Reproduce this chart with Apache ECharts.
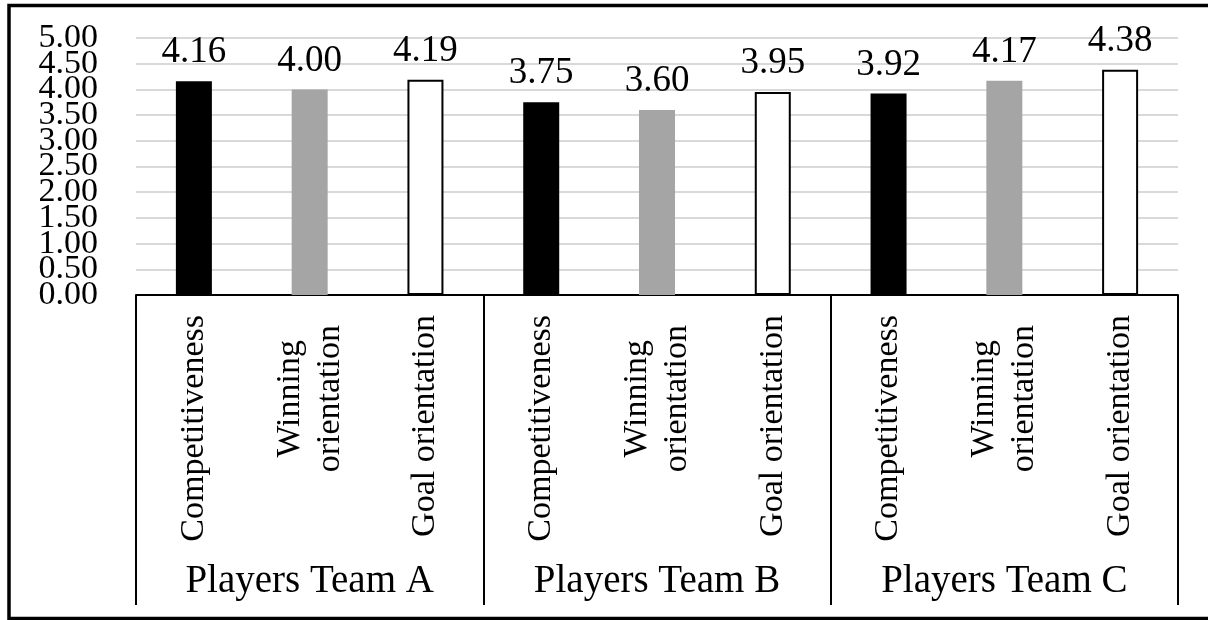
<!DOCTYPE html>
<html>
<head>
<meta charset="utf-8">
<script src="https://cdn.jsdelivr.net/npm/echarts@6/dist/echarts.min.js"></script>
<style>
  html, body { margin: 0; padding: 0; background: #fff; }
  #chart { width: 1208px; height: 620px; }
</style>
</head>
<body>
<div id="chart"></div>
<script>
var groups = ['Players Team A', 'Players Team B', 'Players Team C'];
var measures = ['Competitiveness', 'Winning\norientation', 'Goal orientation'];
var values = [4.16, 4.00, 4.19, 3.75, 3.60, 3.95, 3.92, 4.17, 4.38];
var yMin = 0, yMax = 5, yStep = 0.5;

var font = '"Liberation Serif", "Times New Roman", serif';
var barStyles = [
    { color: '#000000' },
    { color: '#a5a5a5' },
    { color: '#ffffff', borderColor: '#000000', borderWidth: 2 }
];

// 9 sub categories: measures repeated once per team
var categories = [];
groups.forEach(function () {
    measures.forEach(function (m) { categories.push(m); });
});

var yLabelStyle = {
    margin: 38,
    color: '#000',
    fontFamily: font,
    fontSize: 34
};

var chart = echarts.init(document.getElementById('chart'));

var option = {
    animation: false,
    backgroundColor: '#ffffff',
    grid: { left: 136, right: 30, top: 38, bottom: 325, containLabel: false },
    graphic: [{
        type: 'rect',
        shape: { x: 9, y: 5.5, width: 1210, height: 613 },
        style: { fill: 'none', stroke: '#000', lineWidth: 3.5 },
        silent: true
    }],
    xAxis: [
        {
            type: 'category',
            data: categories,
            axisLine: { show: true, lineStyle: { color: '#000', width: 2 } },
            axisTick: { show: false },
            axisLabel: {
                interval: 0,
                rotate: 90,
                margin: 20,
                color: '#000',
                fontFamily: font,
                fontSize: 34,
                lineHeight: 40,
                formatter: function (v) {
                    if (v.indexOf('\n') < 0) return v;
                    var parts = v.split('\n');
                    return '{a|' + parts[0] + '}\n{b|' + parts[1] + '}';
                },
                rich: {
                    a: { fontFamily: font, fontSize: 34, color: '#000', padding: [0, 25, 0, 0] },
                    b: { fontFamily: font, fontSize: 34, color: '#000', padding: [0, 10, 0, 0] }
                }
            }
        },
        {
            type: 'category',
            data: groups,
            position: 'bottom',
            axisLine: { show: false },
            axisTick: { show: true, interval: 0, length: 310, lineStyle: { color: '#000', width: 2 } },
            axisLabel: {
                interval: 0,
                margin: 267,
                color: '#000',
                fontFamily: font,
                fontSize: 39
            }
        }
    ],
    yAxis: [
        {
            // inner tick labels (0.50 .. 4.50) and gridlines
            type: 'value',
            min: yMin,
            max: yMax,
            interval: yStep,
            axisLine: { show: false },
            axisTick: { show: false },
            splitLine: { lineStyle: { color: '#d9d9d9', width: 2 } },
            axisLabel: Object.assign({
                showMinLabel: false,
                showMaxLabel: false,
                formatter: function (v) { return v.toFixed(2); }
            }, yLabelStyle)
        },
        {
            // end labels 0.00 and 5.00, which the first axis drops when labels are packed tight
            type: 'value',
            position: 'left',
            min: yMin,
            max: yMax,
            interval: yStep,
            axisLine: { show: false },
            axisTick: { show: false },
            splitLine: { show: false },
            axisLabel: Object.assign({
                showMinLabel: true,
                showMaxLabel: true,
                formatter: function (v) {
                    return (v === yMin || v === yMax) ? v.toFixed(2) : '';
                }
            }, yLabelStyle)
        }
    ],
    series: [{
        type: 'bar',
        xAxisIndex: 0,
        yAxisIndex: 0,
        barWidth: 36,
        data: values.map(function (v, i) {
            return { value: v, itemStyle: barStyles[i % 3] };
        }),
        label: {
            show: true,
            position: 'top',
            distance: 10,
            color: '#000',
            fontFamily: font,
            fontSize: 37,
            formatter: function (p) { return p.value.toFixed(2); }
        }
    }]
};

chart.setOption(option);
</script>
</body>
</html>
